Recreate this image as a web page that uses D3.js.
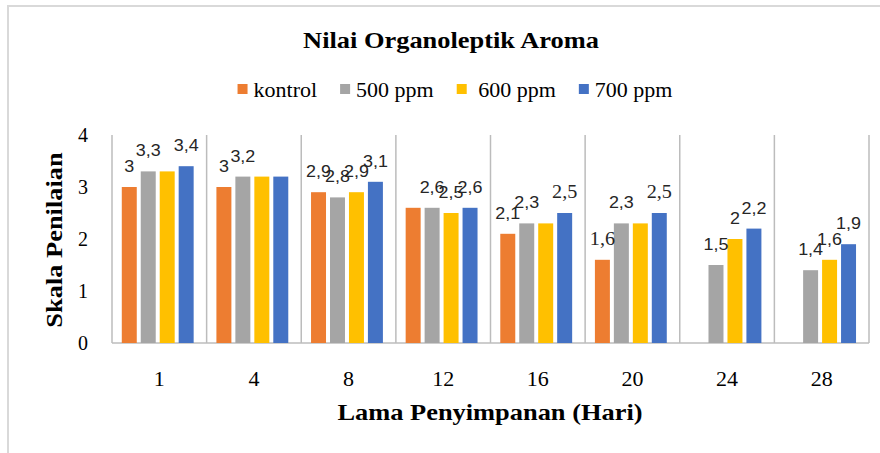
<!DOCTYPE html>
<html>
<head>
<meta charset="utf-8">
<script src="https://cdn.jsdelivr.net/npm/d3@7"></script>
<style>
  html, body { margin: 0; padding: 0; background: #fff; }
  svg { display: block; }
</style>
</head>
<body>
<div id="chart"></div>
<script>
// ---------- DATA ----------
const categories = ["1", "4", "8", "12", "16", "20", "24", "28"];
const seriesNames = ["kontrol", "500 ppm", "600 ppm", "700 ppm"];
const kontrol = [3, 3, 2.9, 2.6, 2.1, 1.6, null, null];
const ppm500  = [3.3, 3.2, 2.8, 2.6, 2.3, 2.3, 1.5, 1.4];
const ppm600  = [3.3, 3.2, 2.9, 2.5, 2.3, 2.3, 2, 1.6];
const ppm700  = [3.4, 3.2, 3.1, 2.6, 2.5, 2.5, 2.2, 1.9];
const yTicks  = [0, 1, 2, 3, 4];
// data labels not shown in the original: [categoryIndex, seriesIndex]
const hiddenLabels = [[0, 2], [1, 2], [1, 3], [3, 0], [4, 2], [5, 2]];
// data labels drawn in a serif face in the original
const serifLabels = [[4, 3], [5, 0], [5, 3]];

const seriesValues = [kontrol, ppm500, ppm600, ppm700];
const colors = ["#ED7D31", "#A5A5A5", "#FFC000", "#4472C4"];

// ---------- LAYOUT ----------
const W = 880, H = 453;
const plot = { left: 112, right: 869, top: 135, bottom: 343 };
const serif = "'Liberation Serif', 'Times New Roman', serif";
const sans = "'Liberation Sans', Arial, sans-serif";
const STRETCH = 1.1;

const svg = d3.select("#chart").append("svg")
  .attr("width", W).attr("height", H);

svg.append("rect").attr("x", 0).attr("y", 0).attr("width", W).attr("height", H).attr("fill", "#fff");
svg.append("rect").attr("x", 8).attr("y", 6).attr("width", W + 20).attr("height", H + 20)
  .attr("fill", "none").attr("stroke", "#d9d9d9").attr("stroke-width", 2);

function stretch(sel, f) {
  sel.each(function () {
    const len = this.getComputedTextLength();
    d3.select(this).attr("textLength", len * (f || STRETCH)).attr("lengthAdjust", "spacingAndGlyphs");
  });
  return sel;
}

// scales
const x0 = d3.scaleBand().domain(categories).range([plot.left, plot.right]).padding(0);
const x1 = d3.scaleBand().domain(d3.range(seriesNames.length))
  .range([0, x0.bandwidth()]).paddingInner(0.21).paddingOuter(0.6).align(0.43);
const y = d3.scaleLinear().domain([0, 4]).range([plot.bottom, plot.top]);

// vertical category separators
const bounds = categories.map(c => x0(c)).concat([x0(categories[categories.length - 1]) + x0.bandwidth()]);
svg.append("g").selectAll("line").data(bounds).join("line")
  .attr("x1", d => d).attr("x2", d => d)
  .attr("y1", y(4)).attr("y2", y(0))
  .attr("stroke", "#bcbcbc").attr("stroke-width", 1.5);

// baseline (x axis line)
svg.append("line")
  .attr("x1", plot.left).attr("x2", plot.right)
  .attr("y1", y(0)).attr("y2", y(0))
  .attr("stroke", "#bcbcbc").attr("stroke-width", 1.5);

// bars
const barData = [];
categories.forEach((c, ci) => {
  seriesValues.forEach((arr, si) => {
    if (arr[ci] != null) barData.push({ c, ci, si, v: arr[ci] });
  });
});
svg.append("g").selectAll("rect").data(barData).join("rect")
  .attr("x", d => x0(d.c) + x1(d.si))
  .attr("y", d => y(d.v))
  .attr("width", x1.bandwidth())
  .attr("height", d => y(0) - y(d.v))
  .attr("fill", d => colors[d.si]);

// data labels
const isIn = (list, d) => list.some(p => p[0] === d.ci && p[1] === d.si);
const fmt = v => String(v).replace(".", ",");
const labels = svg.append("g").selectAll("text")
  .data(barData.filter(d => !isIn(hiddenLabels, d))).join("text")
  .attr("x", d => x0(d.c) + x1(d.si) + x1.bandwidth() / 2)
  .attr("y", d => y(d.v) - 15)
  .attr("text-anchor", "middle")
  .attr("font-family", d => isIn(serifLabels, d) ? serif : sans)
  .attr("font-size", d => isIn(serifLabels, d) ? 18 : 16)
  .attr("fill", "#262626")
  .text(d => fmt(d.v));
stretch(labels, 1.12);

// y tick labels
svg.append("g").selectAll("text").data(yTicks).join("text")
  .attr("x", 88).attr("y", d => y(d) + 7)
  .attr("text-anchor", "end")
  .attr("font-family", serif).attr("font-size", 20).attr("fill", "#000")
  .text(d => d);

// x tick labels
const xt = svg.append("g").selectAll("text").data(categories).join("text")
  .attr("x", d => x0(d) + x0.bandwidth() / 2)
  .attr("y", 386)
  .attr("text-anchor", "middle")
  .attr("font-family", serif).attr("font-size", 20).attr("fill", "#000")
  .text(d => d);
stretch(xt);

// title
stretch(svg.append("text")
  .attr("x", 451).attr("y", 48)
  .attr("text-anchor", "middle")
  .attr("font-family", serif).attr("font-size", 24).attr("font-weight", "bold").attr("fill", "#000")
  .text("Nilai Organoleptik Aroma"));

// axis titles
stretch(svg.append("text")
  .attr("x", 490).attr("y", 420)
  .attr("text-anchor", "middle")
  .attr("font-family", serif).attr("font-size", 24).attr("font-weight", "bold").attr("fill", "#000")
  .text("Lama Penyimpanan (Hari)"));

stretch(svg.append("text")
  .attr("transform", "translate(62,240) rotate(-90)")
  .attr("text-anchor", "middle")
  .attr("font-family", serif).attr("font-size", 24).attr("font-weight", "bold").attr("fill", "#000")
  .text("Skala Penilaian"));

// legend
const legend = svg.append("g");
const legendLabels = ["kontrol", "500 ppm", "\u00a0600 ppm", "700 ppm"];
const GAP = 23;
let lx = 0;
legendLabels.forEach((name, i) => {
  const g = legend.append("g").attr("transform", `translate(${lx},0)`);
  g.append("rect").attr("x", 0).attr("y", 84).attr("width", 10).attr("height", 10).attr("fill", colors[i]);
  const t = g.append("text").attr("x", 16).attr("y", 97)
    .attr("font-family", serif).attr("font-size", 20).attr("fill", "#000")
    .text(name);
  const w = t.node().getComputedTextLength() * STRETCH;
  stretch(t);
  lx += 16 + w + GAP;
});
const totalW = lx - GAP;
legend.attr("transform", `translate(${455 - totalW / 2},0)`);
</script>
</body>
</html>
